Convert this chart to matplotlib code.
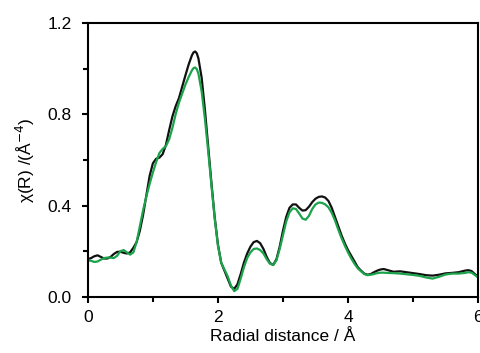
import matplotlib
matplotlib.use("Agg")
import matplotlib.pyplot as plt
from matplotlib.ticker import MultipleLocator

R = [0.00, 0.05, 0.10, 0.15, 0.20, 0.25, 0.30, 0.35, 0.40, 0.45, 0.50, 0.55, 0.60, 0.65,
     0.70, 0.75, 0.80, 0.85, 0.90, 0.95, 1.00, 1.05, 1.10, 1.15, 1.20, 1.25, 1.30, 1.35,
     1.40, 1.45, 1.50, 1.55, 1.60, 1.625, 1.65, 1.675, 1.70, 1.75, 1.80, 1.85, 1.90, 1.95, 2.00, 2.05,
     2.10, 2.15, 2.20, 2.25, 2.30, 2.35, 2.40, 2.45, 2.50, 2.55, 2.60, 2.65, 2.70, 2.75,
     2.80, 2.85, 2.90, 2.95, 3.00, 3.05, 3.10, 3.15, 3.20, 3.25, 3.30, 3.35, 3.40, 3.45,
     3.50, 3.55, 3.60, 3.65, 3.70, 3.75, 3.80, 3.85, 3.90, 3.95, 4.00, 4.05, 4.10, 4.15,
     4.20, 4.25, 4.30, 4.35, 4.40, 4.45, 4.50, 4.55, 4.60, 4.70, 4.80, 4.90, 5.00, 5.10,
     5.20, 5.30, 5.40, 5.50, 5.60, 5.70, 5.80, 5.85, 5.90, 5.95, 6.00]

chi_black = [0.165, 0.170, 0.178, 0.182, 0.175, 0.168, 0.168, 0.175, 0.188, 0.197, 0.198, 0.193, 0.190, 0.195,
             0.215, 0.240, 0.290, 0.360, 0.445, 0.530, 0.585, 0.605, 0.610, 0.625, 0.665, 0.730, 0.790, 0.835,
             0.870, 0.920, 0.970, 1.018, 1.058, 1.071, 1.075, 1.067, 1.045, 0.960, 0.820, 0.660, 0.500, 0.350, 0.230, 0.150,
             0.115, 0.080, 0.045, 0.035, 0.055, 0.100, 0.150, 0.190, 0.220, 0.240, 0.245, 0.235, 0.210, 0.175,
             0.148, 0.140, 0.165, 0.220, 0.290, 0.350, 0.390, 0.405, 0.405, 0.390, 0.378, 0.380, 0.395, 0.415,
             0.430, 0.438, 0.440, 0.435, 0.420, 0.390, 0.350, 0.310, 0.270, 0.235, 0.205, 0.180, 0.155, 0.130,
             0.115, 0.102, 0.097, 0.100, 0.108, 0.115, 0.120, 0.122, 0.118, 0.110, 0.112, 0.108, 0.104, 0.100,
             0.095, 0.093, 0.097, 0.103, 0.105, 0.108, 0.115, 0.117, 0.113, 0.100, 0.088]

chi_green = [0.160, 0.158, 0.153, 0.155, 0.163, 0.170, 0.172, 0.172, 0.170, 0.180, 0.200, 0.205, 0.195, 0.185,
             0.195, 0.240, 0.310, 0.380, 0.440, 0.495, 0.545, 0.590, 0.630, 0.648, 0.660, 0.690, 0.740, 0.800,
             0.850, 0.890, 0.930, 0.963, 0.992, 1.002, 1.005, 0.998, 0.978, 0.900, 0.780, 0.640, 0.490, 0.345, 0.225, 0.150,
             0.120, 0.090, 0.050, 0.025, 0.035, 0.080, 0.130, 0.170, 0.195, 0.210, 0.212, 0.205, 0.190, 0.165,
             0.145, 0.140, 0.160, 0.210, 0.270, 0.330, 0.370, 0.388, 0.385, 0.365, 0.343, 0.338, 0.355, 0.385,
             0.405, 0.413, 0.412, 0.405, 0.392, 0.368, 0.335, 0.295, 0.258, 0.225, 0.195, 0.168, 0.145, 0.125,
             0.112, 0.100, 0.095, 0.097, 0.100, 0.104, 0.106, 0.106, 0.105, 0.104, 0.102, 0.099, 0.096, 0.092,
             0.085, 0.080, 0.088, 0.098, 0.102, 0.102, 0.105, 0.108, 0.106, 0.096, 0.085]

xticks = [0, 2, 4, 6]
yticks = [0.0, 0.4, 0.8, 1.2]

plt.rcParams['font.family'] = ['Liberation Sans', 'DejaVu Sans']

fig = plt.figure(figsize=(4.8, 3.53), dpi=100)
ax = fig.add_axes([0.183, 0.159, 0.813, 0.776])

ax.plot(R, chi_black, color='#111111', lw=1.6, solid_capstyle='round', solid_joinstyle='round')
ax.plot(R, chi_green, color='#1aa34a', lw=1.6, solid_capstyle='round', solid_joinstyle='round')

ax.set_xlim(0, 6)
ax.set_ylim(0, 1.2)
ax.set_xticks(xticks)
ax.set_xticklabels([str(v) for v in xticks])
ax.set_yticks(yticks)
ax.set_yticklabels([f"{v:.1f}" for v in yticks])
ax.xaxis.set_minor_locator(MultipleLocator(1))
ax.yaxis.set_minor_locator(MultipleLocator(0.2))

for s in ax.spines.values():
    s.set_linewidth(1.5)
ax.tick_params(which='major', direction='out', length=4.5, width=1.5, labelsize=12.5)
ax.tick_params(axis='y', which='major', pad=7)
ax.tick_params(axis='x', which='major', pad=5)
ax.tick_params(which='minor', direction='out', length=3.5, width=1.5)

ax.set_xlabel('Radial distance / Å', fontsize=12.5, labelpad=3)
ax.set_ylabel('χ(R) /(Å$^{-4}$)', fontsize=12.5, labelpad=8)

fig.savefig('out.png', dpi=100)
